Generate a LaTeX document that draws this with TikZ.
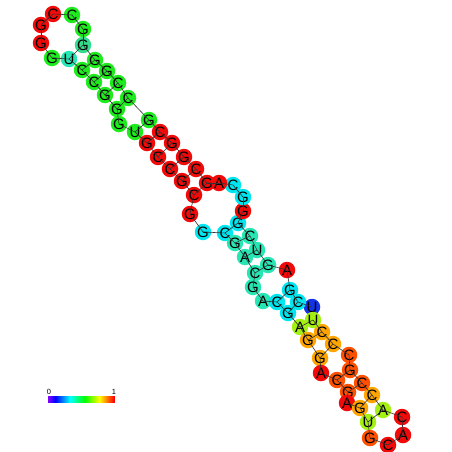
\documentclass[tikz,border=0pt]{standalone}
\usepackage{fontspec}
\setmainfont{Liberation Sans}
\definecolor{pred}{RGB}{240,10,10}
\definecolor{pored}{RGB}{255,80,0}
\definecolor{porange}{RGB}{255,165,0}
\definecolor{pyg}{RGB}{165,240,20}
\definecolor{pgreen}{RGB}{30,235,30}
\definecolor{pgcyan}{RGB}{50,220,140}
\definecolor{paqua}{RGB}{40,230,180}
\definecolor{pcyan}{RGB}{0,230,240}
\definecolor{pblue}{RGB}{20,50,230}
\tikzstyle{base} = [circle,
inner sep=0pt,
minimum size=16.5pt,
font=\fontsize{15}{15}\selectfont]
\tikzstyle{bond} = [draw=black!80, line width=0.6pt]

\begin{document}
\begin{tikzpicture}[x=1pt, y=-1pt]
    \useasboundingbox (0,0) rectangle (452,452);
    %%%%%%%%%%%%%%%%%%%%%%%%%%%%%%%%%%%%%%%%
    % Upper arm, going up
    %%%%%%%%%%%%%%%%%%%%%%%%%%%%%%%%%%%%%%%%
    \node (b1) [base, fill=pblue] at (312,307) {U};
    \node (b2) [base, fill=pcyan] at (298,302) {C};
    \node (b3) [base, fill=pcyan] at (290,290) {G};
    \node (b4) [base, fill=pred] at (287,270) {A};
    \node (b5) [base, fill=paqua] at (268,265) {G};
    \node (b6) [base, fill=paqua] at (257,250) {U};
    \node (b7) [base, fill=paqua] at (250,236) {C};
    \node (b8) [base, fill=pcyan] at (238,223) {G};
    \node (b9) [base, fill=pred] at (243,211) {G};
    \node (b10) [base, fill=pcyan] at (243,197) {G};
    \node (b11) [base, fill=pcyan] at (233,185) {C};
    \node (b12) [base, fill=pred] at (219,183) {A};
    \node (b13) [base, fill=pred] at (207,183) {G};
    \node (b14) [base, fill=pred] at (196,169) {C};
    \node (b15) [base, fill=pred] at (184,157) {G};
    \node (b16) [base, fill=pred] at (172,143) {G};
    \node (b17) [base, fill=pred] at (160,132) {C};
    \node (b18) [base, fill=pgreen] at (149,120) {G};
    \node (b19) [base, fill=pgreen] at (128,98) {C};
    \node (b20) [base, fill=pgreen] at (118,83) {C};
    \node (b21) [base, fill=pgreen] at (107,71) {G};
    \node (b22) [base, fill=pgreen] at (95,60) {G};
    \node (b23) [base, fill=pgcyan] at (83,45) {G};
    %%%%%%%%%%%%%%%%%%%%%%%%%%%%%%%%%%%%%%%%
    % Top loop
    %%%%%%%%%%%%%%%%%%%%%%%%%%%%%%%%%%%%%%%%
    \node (b24) [base, fill=pgreen] at (83,29) {G};
    \node (b25) [base, fill=pgreen] at (72,15) {C};
    \node (b26) [base, fill=pred] at (53,14) {C};
    \node (b27) [base, fill=pred] at (41,25) {G};
    \node (b28) [base, fill=pred] at (41,43) {G};
    \node (b29) [base, fill=pgreen] at (52,58) {G};
    %%%%%%%%%%%%%%%%%%%%%%%%%%%%%%%%%%%%%%%%
    % Upper arm, going down
    %%%%%%%%%%%%%%%%%%%%%%%%%%%%%%%%%%%%%%%%
    \node (b30) [base, fill=paqua] at (69,59) {U};
    \node (b31) [base, fill=pgreen] at (82,70) {C};
    \node (b32) [base, fill=pgreen] at (94,82) {C};
    \node (b33) [base, fill=pgreen] at (105,95) {G};
    \node (b34) [base, fill=pgreen] at (117,109) {G};
    \node (b35) [base, fill=pgreen] at (119,124) {G};
    \node (b36) [base, fill=pgreen] at (135,132) {U};
    \node (b37) [base, fill=pred] at (147,143) {G};
    \node (b38) [base, fill=pred] at (158,157) {C};
    \node (b39) [base, fill=pred] at (170,169) {C};
    \node (b40) [base, fill=pred] at (182,181) {G};
    \node (b41) [base, fill=pred] at (194,195) {C};
    \node (b42) [base, fill=pred] at (190,214) {G};
    \node (b43) [base, fill=pcyan] at (203,232) {G};
    \node (b44) [base, fill=pcyan] at (225,233) {C};
    \node (b45) [base, fill=paqua] at (235,243) {G};
    \node (b46) [base, fill=paqua] at (245,257) {A};
    \node (b47) [base, fill=paqua] at (255,273) {C};
    \node (b48) [base, fill=paqua] at (253,287) {G};
    \node (b49) [base, fill=paqua] at (263,301) {A};
    \node (b50) [base, fill=pcyan] at (277,302) {C};
    \node (b51) [base, fill=pcyan] at (288,313) {G};
    %%%%%%%%%%%%%%%%%%%%%%%%%%%%%%%%%%%%%%%%
    % Lower arm
    %%%%%%%%%%%%%%%%%%%%%%%%%%%%%%%%%%%%%%%%
    \node (b52) [base, fill=pyg] at (300,327) {A};
    \node (b53) [base, fill=porange] at (308,340) {G};
    \node (b54) [base, fill=porange] at (320,358) {G};
    \node (b55) [base, fill=pred] at (321,373) {A};
    \node (b56) [base, fill=pored] at (337,380) {C};
    \node (b57) [base, fill=pored] at (348,392) {G};
    \node (b58) [base, fill=pred] at (347,403) {A};
    \node (b59) [base, fill=porange] at (360,408) {G};
    \node (b60) [base, fill=pyg] at (368,422) {U};
    \node (b61) [base, fill=pored] at (370,438) {G};
    \node (b62) [base, fill=pred] at (388,445) {C};
    \node (b63) [base, fill=pred] at (403,435) {A};
    \node (b64) [base, fill=pred] at (402,417) {C};
    \node (b65) [base, fill=pyg] at (383,410) {A};
    \node (b66) [base, fill=porange] at (372,395) {C};
    \node (b67) [base, fill=pored] at (362,383) {C};
    \node (b68) [base, fill=pored] at (350,370) {G};
    \node (b69) [base, fill=pored] at (349,355) {C};
    \node (b70) [base, fill=porange] at (333,344) {C};
    \node (b71) [base, fill=porange] at (322,332) {C};
    \node (b72) [base, fill=pyg] at (313,320) {U};
    %%%%%%%%%%%%%%%%%%%%%%%%%%%%%%%%%%%%%%%%
    % Backbone and pairs
    %%%%%%%%%%%%%%%%%%%%%%%%%%%%%%%%%%%%%%%%
    \foreach \i [evaluate=\i as \j using int(\i+1)] in {1,...,71}
        \draw [bond] (b\i.center) -- (b\j.center);
    \foreach \i/\j in {2/51, 3/50, 5/47, 6/46, 7/45, 8/44, 13/41, 14/40,
        15/39, 16/38, 17/37, 18/36, 19/34, 20/33, 21/32, 22/31, 23/30,
        52/72, 53/71, 54/70, 56/68, 57/67, 59/66, 60/65}
        \draw [bond] (b\i.center) -- (b\j.center);
    %%%%%%%%%%%%%%%%%%%%%%%%%%%%%%%%%%%%%%%%
    % Colour scale
    %%%%%%%%%%%%%%%%%%%%%%%%%%%%%%%%%%%%%%%%
    \foreach \i in {0,...,66} {
        \pgfmathsetmacro\hue{270*(1-\i/66)}
        \definecolor{barcol}{Hsb}{\hue,1,1}
        \fill [barcol] (48+\i,396) rectangle (49.2+\i,403);
    }
    \coordinate (lo) at (49,396);
    \coordinate (hi) at (114,396);
    \node (zero) [above, inner sep=1pt, font=\fontsize{7.5}{7.5}\selectfont] at (lo) {0};
    \node (one) [above, inner sep=1pt, font=\fontsize{7.5}{7.5}\selectfont] at (hi) {1};
\end{tikzpicture}
\end{document}
